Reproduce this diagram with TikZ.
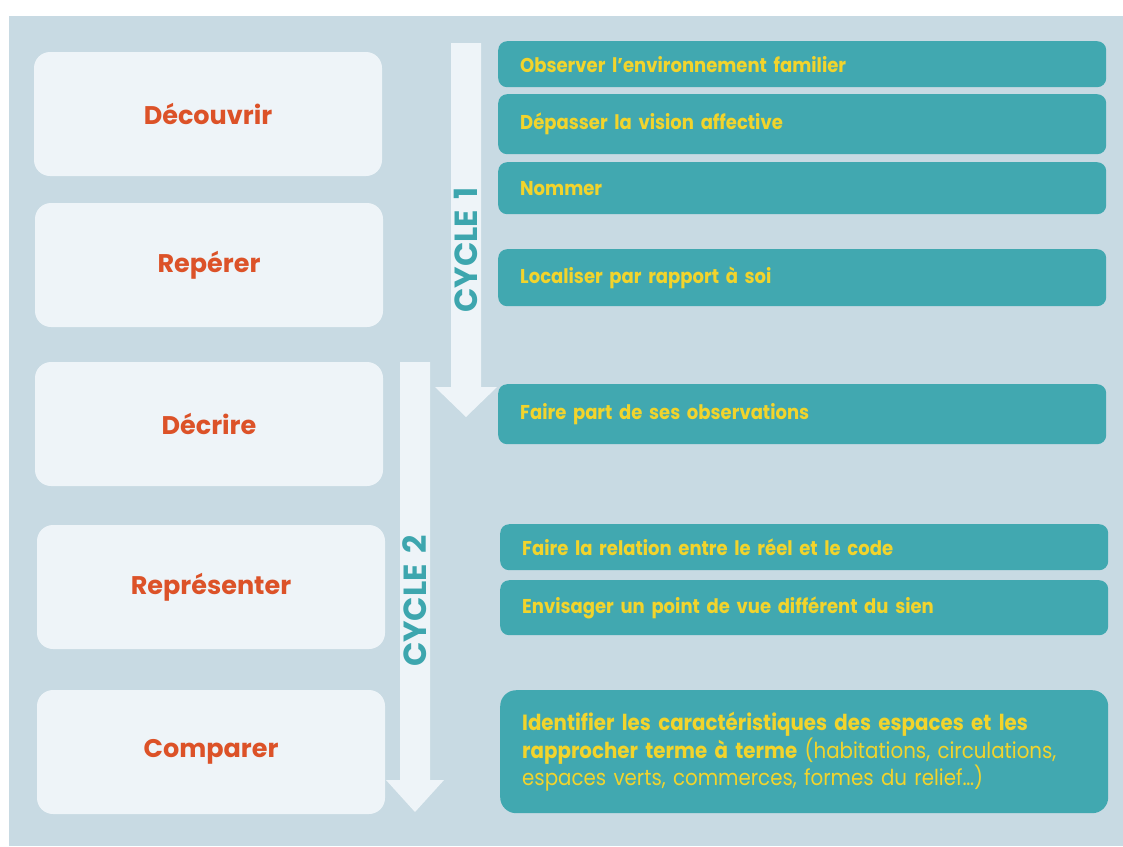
\documentclass[tikz,border=0pt]{standalone}
\usepackage{fontspec}
\setmainfont{Poppins}
\newfontfamily\condfont[FakeStretch=0.9]{Poppins}
\definecolor{panel}{HTML}{C8DAE3}
\definecolor{boxw}{HTML}{EEF4F8}
\definecolor{tealc}{HTML}{41A8B0}
\definecolor{orng}{HTML}{DC5228}
\definecolor{yel}{HTML}{F2D42C}
\definecolor{cyc}{HTML}{3DA6AE}
\tikzset{
  stagebox/.style={fill=boxw, rounded corners=16pt, minimum width=348pt, minimum height=124pt,
    inner sep=0pt, text=orng, font=\fontsize{25.5}{29}\selectfont\bfseries},
  taskbox/.style={fill=tealc, rounded corners=9pt, anchor=north west, inner xsep=22pt, inner ysep=0pt,
    text width=564pt, align=left, text=yel, font=\condfont\fontsize{20}{24}\selectfont\bfseries},
  cyclabel/.style={rotate=90, text=cyc, inner sep=0pt, font=\fontsize{32}{32}\selectfont\bfseries},
  arrowshape/.style={fill=boxw}
}
\begin{document}
\begin{tikzpicture}[x=1pt,y=-1pt]
\useasboundingbox (0,0) rectangle (1123,846);
\fill[panel] (9,16) rectangle (1123,846);
% cycle arrows
\fill[arrowshape] (451,43) -- (481,43) -- (481,387) -- (497,387) -- (466,417) -- (435,387) -- (451,387) -- cycle;
\fill[arrowshape] (400,362) -- (430,362) -- (430,780) -- (444,780) -- (415,812) -- (386,780) -- (400,780) -- cycle;
\node[cyclabel] (c1) at (466,250) {CYCLE\,\,1};
\node[cyclabel] (c2) at (415,601) {CYCLE\,\,2};
% stages
\node[stagebox] (s1) at (208,114) {Découvrir};
\node[stagebox] (s2) at (209,265) {Repérer};
\node[stagebox] (s3) at (209,424) {Décrire};
\node[stagebox] (s4) at (211,587) {Représenter};
\node[stagebox] (s5) at (211,752) {Comparer};
% tasks
\node[taskbox, minimum height=46pt] (t1) at (498,41) {Observer l’environnement familier};
\node[taskbox, minimum height=60pt] (t2) at (498,94) {Dépasser la vision affective};
\node[taskbox, minimum height=52pt] (t3) at (498,162) {Nommer};
\node[taskbox, minimum height=57pt] (t4) at (498,249) {Localiser par rapport à soi};
\node[taskbox, minimum height=60pt] (t5) at (498,384) {Faire part de ses observations};
\node[taskbox, minimum height=46pt] (t6) at (500,524) {Faire la relation entre le réel et le code};
\node[taskbox, minimum height=55pt] (t7) at (500,580) {Envisager un point de vue différent du sien};
\node[taskbox, minimum height=123pt, rounded corners=16pt, font=\condfont\fontsize{22}{24}\selectfont\bfseries] (t8) at (500,690) {Identifier les caractéristiques des espaces et les\\
rapprocher terme à terme {\mdseries (habitations, circulations,\\
espaces verts, commerces, formes du relief…)}};
\end{tikzpicture}
\end{document}
